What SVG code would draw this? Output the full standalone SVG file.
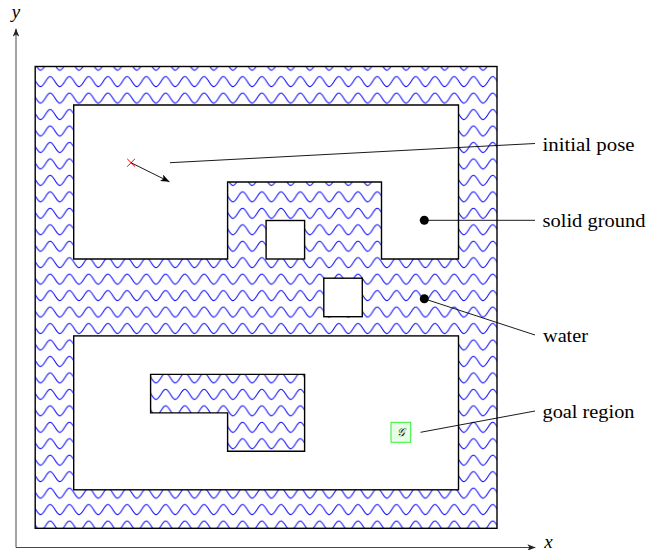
<svg xmlns="http://www.w3.org/2000/svg" width="659" height="550" viewBox="0 0 659 550">
<defs>
  <pattern id="waves" patternUnits="userSpaceOnUse" x="35.8" y="56.97" width="19.24" height="16.46">
    <path d="M-1,6.6 C-0.5,7.2 -0.3,7.8 0,8.23 C1.57,10.79 3.07,13.23 4.81,13.23 C6.55,13.23 8.05,10.79 9.62,8.23 C11.19,5.67 12.69,3.23 14.43,3.23 C16.17,3.23 17.67,5.67 19.24,8.23 C19.5,8.6 19.8,9.1 20.2,9.8" fill="none" stroke="#0000ff" stroke-width="1"/>
  </pattern>
  <marker id="ah" viewBox="0 0 10 8" refX="10" refY="4" markerWidth="9" markerHeight="7.2" markerUnits="userSpaceOnUse" orient="auto">
    <path d="M0,0 L10,4 L0,8 L2.5,4 z" fill="#000"/>
  </marker>
  <marker id="axh" viewBox="0 0 10 8" refX="10" refY="4" markerWidth="8" markerHeight="6.4" markerUnits="userSpaceOnUse" orient="auto">
    <path d="M0,0 L10,4 L0,8 L2.5,4 z" fill="#222"/>
  </marker>
</defs>
<style>
  .water { fill: url(#waves); stroke: #000; stroke-width: 1.4; }
  .land { fill: #fff; stroke: #000; stroke-width: 1.4; }
  .lead { stroke: #000; stroke-width: 0.9; fill: none; }
  .axis { stroke: #333; stroke-width: 0.9; fill: none; }
  .lbl { font-family: "Liberation Serif", "DejaVu Serif", serif; font-size: 19.5px; fill: #000; }
  .ax { font-family: "Liberation Serif", "DejaVu Serif", serif; font-size: 19px; font-style: italic; fill: #000; }
</style>
<rect width="659" height="550" fill="#fff"/>

<g id="axes">
  <line class="axis" x1="16" y1="547.5" x2="16" y2="28.5" marker-end="url(#axh)"/>
  <line class="axis" x1="16" y1="547.5" x2="535.4" y2="547.5" marker-end="url(#axh)"/>
  <text class="ax" x="16" y="17.5" text-anchor="middle">y</text>
  <text class="ax" x="548.5" y="547.5" text-anchor="middle">x</text>
</g>

<g id="outer-water">
  <rect class="water" x="35.2" y="66.5" width="461.8" height="461.8"/>
</g>
<g id="top-land">
  <polygon class="land" points="73.7,259 73.7,105 458.5,105 458.5,259 381.5,259 381.5,182 227.6,182 227.6,259"/>
</g>
<g id="island-1">
  <rect class="land" x="266.1" y="220.5" width="38.5" height="38.5"/>
</g>
<g id="island-2">
  <rect class="land" x="323.8" y="278.2" width="38.5" height="38.5"/>
</g>
<g id="bottom-land">
  <rect class="land" x="73.7" y="335.9" width="384.8" height="153.9"/>
</g>
<g id="lake">
  <polygon class="water" points="150.6,374.4 304.6,374.4 304.6,451.3 227.6,451.3 227.6,412.9 150.6,412.9"/>
</g>

<g id="goal">
  <rect x="391" y="422.3" width="19.7" height="20" fill="#e6ffe6" stroke="#33ee33" stroke-width="1"/>
  <text x="401" y="436" text-anchor="middle" font-family="DejaVu Serif, Liberation Serif, serif" font-size="11" font-style="italic">𝒢</text>
</g>

<g id="pose">
  <line x1="127.2" y1="158.8" x2="135" y2="166.6" stroke="#ff0000" stroke-width="1"/>
  <line x1="127.2" y1="166.6" x2="135" y2="158.8" stroke="#ff0000" stroke-width="1"/>
</g>

<g id="connectors">
  <line class="lead" x1="131" y1="162.7" x2="169.5" y2="181.8" marker-end="url(#ah)"/>
  <line class="lead" x1="170" y1="162.7" x2="535" y2="143.5"/>
  <circle cx="424.3" cy="220.3" r="4.5" fill="#000"/>
  <line class="lead" x1="424.3" y1="220.3" x2="535" y2="220.3"/>
  <circle cx="424.3" cy="298.8" r="4.5" fill="#000"/>
  <line class="lead" x1="424.3" y1="298.8" x2="535" y2="335"/>
  <line class="lead" x1="420.5" y1="432.3" x2="535" y2="411"/>
</g>

<g id="labels">
  <text class="lbl" x="542.5" y="150.5" textLength="92" lengthAdjust="spacingAndGlyphs">initial pose</text>
  <text class="lbl" x="542.5" y="227" textLength="103" lengthAdjust="spacingAndGlyphs">solid ground</text>
  <text class="lbl" x="543" y="341.7" textLength="45" lengthAdjust="spacingAndGlyphs">water</text>
  <text class="lbl" x="542.5" y="418" textLength="92" lengthAdjust="spacingAndGlyphs">goal region</text>
</g>
</svg>
